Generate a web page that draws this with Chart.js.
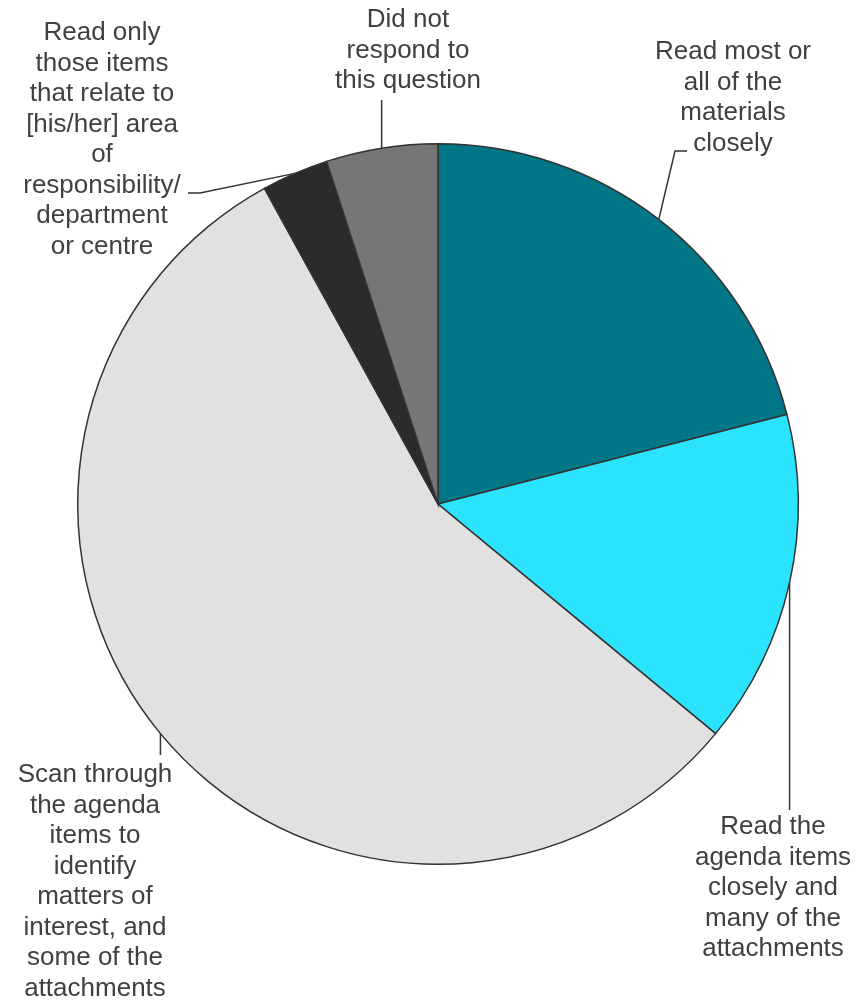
<!DOCTYPE html>
<html>
<head>
<meta charset="utf-8">
<script src="https://cdn.jsdelivr.net/npm/chart.js@4.4.1/dist/chart.umd.min.js"></script>
<style>
  html, body { margin: 0; padding: 0; background: #ffffff; }
  #wrap { position: relative; width: 867px; height: 1002px; }
</style>
</head>
<body>
<div id="wrap"><canvas id="c" width="867" height="1002"></canvas></div>
<script>
// ---- data ----
const categories = [
  ["Read most or", "all of the", "materials", "closely"],
  ["Read the", "agenda items", "closely and", "many of the", "attachments"],
  ["Scan through", "the agenda", "items to", "identify", "matters of", "interest, and", "some of the", "attachments"],
  ["Read only", "those items", "that relate to", "[his/her] area", "of", "responsibility/", "department", "or centre"],
  ["Did not", "respond to", "this question"]
];
const values = [21, 15, 56, 3, 5];
const colors = ["#017686", "#2CE3FE", "#E1E1E1", "#2B2B2B", "#767676"];

// ---- label layout (positions only) ----
const labelLayout = [
  { cx: 733, y0: 52,  path: [[675, 151], [687, 151]] },
  { cx: 773, y0: 827, path: [[null, 810]] },
  { cx: 95,  y0: 775, path: [[null, 755]] },
  { cx: 102, y0: 33,  path: [[200, 193], [188, 193]] },
  { cx: 408, y0: 20,  path: [[null, 100]] }
];
const lineHeight = 30.5;

const labelPlugin = {
  id: 'outLabels',
  afterDraw(chart) {
    const ctx = chart.ctx;
    const meta = chart.getDatasetMeta(0);
    ctx.save();
    meta.data.forEach((arc, i) => {
      const p = arc.getProps(['x','y','startAngle','endAngle','outerRadius'], true);
      const mid = (p.startAngle + p.endAngle) / 2;
      const ax = p.x + Math.cos(mid) * p.outerRadius;
      const ay = p.y + Math.sin(mid) * p.outerRadius;
      const L = labelLayout[i];
      ctx.strokeStyle = '#333333';
      ctx.lineWidth = 1.5;
      ctx.beginPath();
      ctx.moveTo(ax, ay);
      L.path.forEach(pt => ctx.lineTo(pt[0] === null ? ax : pt[0], pt[1]));
      ctx.stroke();
      ctx.fillStyle = '#404040';
      ctx.font = '26px "Liberation Sans", Arial, sans-serif';
      ctx.textAlign = 'center';
      ctx.textBaseline = 'middle';
      categories[i].forEach((line, k) => {
        ctx.fillText(line, L.cx, L.y0 + k * lineHeight);
      });
    });
    ctx.restore();
  }
};

new Chart(document.getElementById('c'), {
  type: 'pie',
  data: {
    labels: categories.map(c => c.join(' ')),
    datasets: [{
      data: values,
      backgroundColor: colors,
      borderColor: '#333333',
      borderWidth: 1.5,
      borderJoinStyle: 'miter'
    }]
  },
  options: {
    responsive: false,
    animation: false,
    devicePixelRatio: 1,
    layout: { padding: { left: 77, right: 68, top: 142, bottom: 136 } },
    plugins: {
      legend: { display: false },
      tooltip: { enabled: false }
    }
  },
  plugins: [labelPlugin]
});
</script>
</body>
</html>
